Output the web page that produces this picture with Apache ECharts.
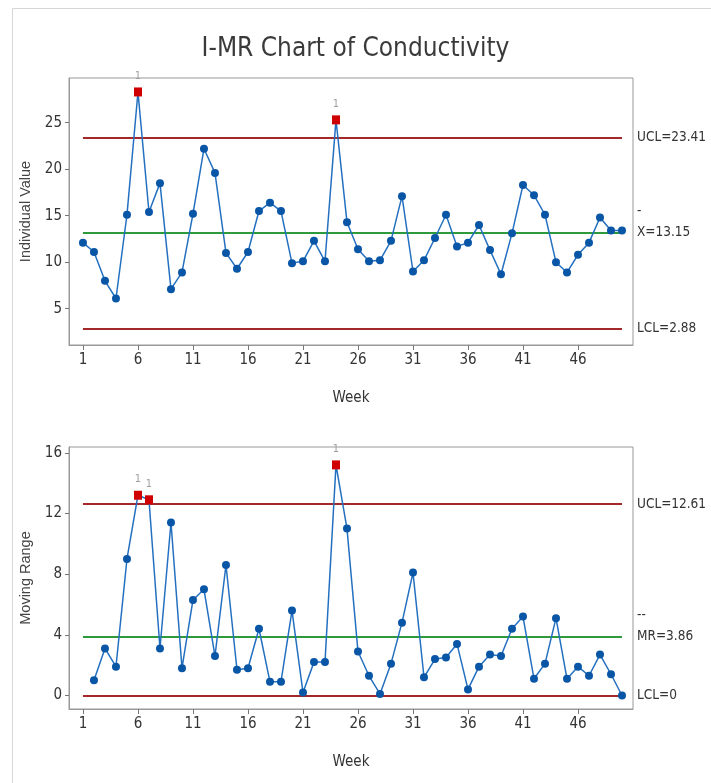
<!DOCTYPE html>
<html>
<head>
<meta charset="utf-8">
<script src="https://cdn.jsdelivr.net/npm/echarts@6/dist/echarts.min.js"></script>
<style>
html,body{margin:0;padding:0;background:#fff;}
#chart{width:711px;height:783px;}
</style>
</head>
<body>
<div id="chart"></div>
<script>
const weeks = [1,2,3,4,5,6,7,8,9,10,11,12,13,14,15,16,17,18,19,20,21,22,23,24,25,26,27,28,29,30,31,32,33,34,35,36,37,38,39,40,41,42,43,44,45,46,47,48,49,50];
const individual = [12.1,11.1,8.0,6.1,15.1,28.3,15.4,18.5,7.1,8.9,15.2,22.2,19.6,11.0,9.3,11.1,15.5,16.4,15.5,9.9,10.1,12.3,10.1,25.3,14.3,11.4,10.1,10.2,12.3,17.1,9.0,10.2,12.6,15.1,11.7,12.1,14.0,11.3,8.7,13.1,18.3,17.2,15.1,10.0,8.9,10.8,12.1,14.8,13.4,13.4];
const movingRange = [null,1.0,3.1,1.9,9.0,13.2,12.9,3.1,11.4,1.8,6.3,7.0,2.6,8.6,1.7,1.8,4.4,0.9,0.9,5.6,0.2,2.2,2.2,15.2,11.0,2.9,1.3,0.1,2.1,4.8,8.1,1.2,2.4,2.5,3.4,0.4,1.9,2.7,2.6,4.4,5.2,1.1,2.1,5.1,1.1,1.9,1.3,2.7,1.4,0.0];
const xTicks = [1,6,11,16,21,26,31,36,41,46];
const iTicks = [5,10,15,20,25];
const mrTicks = [0,4,8,12,16];
const iFlagged = [6,24];
const mrFlagged = [6,7,24];
const iUCL = 23.41, iCL = 13.15, iLCL = 2.88;
const mrUCL = 12.61, mrCL = 3.86, mrLCL = 0;

const NARROW = "'Liberation Sans Narrow','DejaVu Sans Condensed','Liberation Sans',sans-serif";
const BLUE_LINE = '#2470c0';
const BLUE_DOT = '#0a56a6';
const RED_MARK = '#d00000';
const RED_LINE = '#a3282a';
const GREEN_LINE = '#2e9a3c';

function buildData(values, flagged) {
  const out = [];
  weeks.forEach((w, i) => {
    const v = values[i];
    if (v === null) return;
    if (flagged.indexOf(w) >= 0) {
      out.push({
        value: [w, v],
        symbol: 'rect',
        symbolSize: [8, 9],
        itemStyle: { color: RED_MARK },
        label: { show: true, position: 'top', distance: 6, formatter: '1', color: '#a0a0a0', fontSize: 11, fontFamily: NARROW }
      });
    } else {
      out.push([w, v]);
    }
  });
  return out;
}

function hLine(y, color, text) {
  return [
    { coord: [weeks[0], y], lineStyle: { color: color, width: 2, type: 'solid' },
      label: { show: true, position: 'end', distance: 15, formatter: text, color: '#333', fontSize: 13.5, fontFamily: NARROW, lineHeight: 21, align: 'left' } },
    { coord: [weeks[weeks.length - 1], y] }
  ];
}

const xAxisBase = (gridIndex) => ({
  type: 'value', gridIndex: gridIndex, min: -0.27, max: 51,
  name: 'Week', nameLocation: 'middle', nameGap: 46,
  nameTextStyle: { color: '#333', fontSize: 15, fontFamily: NARROW },
  axisLine: { show: true, onZero: false, lineStyle: { color: '#999' } },
  axisTick: { show: true, inside: false, length: 5, lineStyle: { color: '#777' }, customValues: xTicks },
  axisLabel: { color: '#333', fontSize: 15, fontFamily: NARROW, margin: 8, customValues: xTicks },
  splitLine: { show: false }
});

const yAxisBase = (gridIndex, min, max, ticks, name) => ({
  type: 'value', gridIndex: gridIndex, min: min, max: max,
  name: name, nameLocation: 'middle', nameGap: 28,
  nameTextStyle: { color: '#444', fontSize: 14.5, fontFamily: "'Liberation Sans',Arial,sans-serif" },
  axisLine: { show: true, onZero: false, lineStyle: { color: '#999' } },
  axisTick: { show: true, inside: false, length: 4, lineStyle: { color: '#777' }, customValues: ticks },
  axisLabel: { color: '#333', fontSize: 15, fontFamily: NARROW, margin: 7, customValues: ticks },
  splitLine: { show: false }
});

const chart = echarts.init(document.getElementById('chart'), null, { renderer: 'canvas' });
chart.setOption({
  animation: false,
  backgroundColor: '#fff',
  title: {
    text: 'I-MR Chart of Conductivity', left: 'center', top: 31,
    textStyle: { color: '#3a3a3a', fontSize: 26, fontWeight: 'normal', fontFamily: NARROW }
  },
  graphic: [
    { type: 'line', shape: { x1: 12.5, y1: 8.5, x2: 711, y2: 8.5 }, style: { stroke: '#d6d6d6', lineWidth: 1 }, silent: true },
    { type: 'line', shape: { x1: 12.5, y1: 8.5, x2: 12.5, y2: 783 }, style: { stroke: '#d6d6d6', lineWidth: 1 }, silent: true }
  ],
  grid: [
    { left: 69, top: 78, width: 564, height: 267, show: true, borderColor: '#999', borderWidth: 1, backgroundColor: 'transparent' },
    { left: 69, top: 447, width: 564, height: 262, show: true, borderColor: '#999', borderWidth: 1, backgroundColor: 'transparent' }
  ],
  xAxis: [xAxisBase(0), xAxisBase(1)],
  yAxis: [
    yAxisBase(0, 1.1, 29.8, iTicks, 'Individual Value'),
    yAxisBase(1, -0.89, 16.38, mrTicks, 'Moving Range')
  ],
  series: [
    {
      type: 'line', xAxisIndex: 0, yAxisIndex: 0,
      data: buildData(individual, iFlagged),
      symbol: 'circle', symbolSize: 8,
      lineStyle: { color: BLUE_LINE, width: 1.5 },
      itemStyle: { color: BLUE_DOT },
      z: 5,
      markLine: {
        silent: true, symbol: 'none', animation: false,
        data: [
          hLine(iUCL, RED_LINE, 'UCL=' + iUCL.toFixed(2)),
          hLine(iCL, GREEN_LINE, '-\nX=' + iCL.toFixed(2) + '\n '),
          hLine(iLCL, RED_LINE, 'LCL=' + iLCL.toFixed(2))
        ]
      }
    },
    {
      type: 'line', xAxisIndex: 1, yAxisIndex: 1,
      data: buildData(movingRange, mrFlagged),
      symbol: 'circle', symbolSize: 8,
      lineStyle: { color: BLUE_LINE, width: 1.5 },
      itemStyle: { color: BLUE_DOT },
      z: 5,
      markLine: {
        silent: true, symbol: 'none', animation: false,
        data: [
          hLine(mrUCL, RED_LINE, 'UCL=' + mrUCL.toFixed(2)),
          hLine(mrCL, GREEN_LINE, '--\nMR=' + mrCL.toFixed(2) + '\n '),
          hLine(mrLCL, RED_LINE, 'LCL=' + mrLCL)
        ]
      }
    }
  ]
});
</script>
</body>
</html>
